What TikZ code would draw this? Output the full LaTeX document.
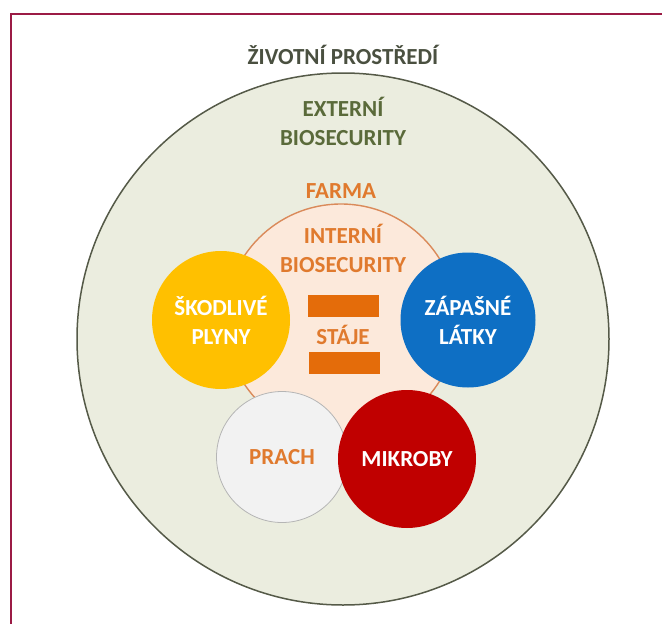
\documentclass[tikz,border=0pt]{standalone}
\usepackage{fontspec}
\setmainfont{Carlito}
\definecolor{frame}{HTML}{9B1B45}
\definecolor{envfill}{HTML}{EBEDDF}
\definecolor{envline}{HTML}{555A48}
\definecolor{envtext}{HTML}{4A5040}
\definecolor{exttext}{HTML}{5A6A3A}
\definecolor{orangetxt}{HTML}{E07A2E}
\definecolor{farmfill}{HTML}{FCE9DB}
\definecolor{farmline}{HTML}{DA8A5A}
\definecolor{yel}{HTML}{FFC000}
\definecolor{blu}{HTML}{0E6FC4}
\definecolor{wht}{HTML}{F2F2F2}
\definecolor{whtline}{HTML}{B5B5B5}
\definecolor{rd}{HTML}{C00000}
\definecolor{barc}{HTML}{E46C0A}
\tikzset{
  lbl/.style={font=\fontsize{23}{29}\selectfont\bfseries, align=center, inner sep=0pt},
  bubble/.style={circle, inner sep=0pt, draw=none, font=\fontsize{23}{29}\selectfont\bfseries, align=center, text=white},
  barbox/.style={fill=barc, draw=none, minimum width=71pt, minimum height=22pt, inner sep=0pt}
}
\begin{document}
\begin{tikzpicture}[x=1pt,y=-1pt]
\useasboundingbox (0,0) rectangle (662,624);
\fill[white] (0,0) rectangle (662,624);
% frame (cropped at right and bottom)
\draw[frame, line width=2.2pt] (11,624) -- (11,14) -- (662,14);
% environment circle
\node[circle, minimum size=532pt, fill=envfill, draw=envline, line width=1.5pt, inner sep=0pt] (env) at (343,339) {};
\node[lbl, text=envtext] (envlbl) at (343,55) {ŽIVOTNÍ PROSTŘEDÍ};
\node[lbl, text=exttext] (extlbl) at (343,121) {EXTERNÍ\\BIOSECURITY};
\node[lbl, text=orangetxt] (farmlbl) at (341,191) {FARMA};
% farm circle
\node[circle, minimum size=232pt, fill=farmfill, draw=farmline, line width=1.4pt, inner sep=0pt] (farm) at (341,320) {};
\node[lbl, text=orangetxt] (intlbl) at (343,248) {INTERNÍ\\BIOSECURITY};
\node[barbox] (bar1) at (343,306) {};
\node[lbl, text=orangetxt] (stable) at (343,335) {STÁJE};
\node[barbox] (bar2) at (344,363) {};
% factor circles
\node[bubble, fill=yel, minimum size=138pt] (gas) at (221,320) {ŠKODLIVÉ\\PLYNY};
\node[bubble, fill=blu, minimum size=135pt] (odor) at (468,320) {ZÁPAŠNÉ\\LÁTKY};
\node[bubble, fill=wht, draw=whtline, line width=0.8pt, minimum size=131pt, text=orangetxt] (dust) at (282,457) {PRACH};
\node[bubble, fill=rd, minimum size=138pt] (micro) at (407,459) {MIKROBY};
\end{tikzpicture}
\end{document}
